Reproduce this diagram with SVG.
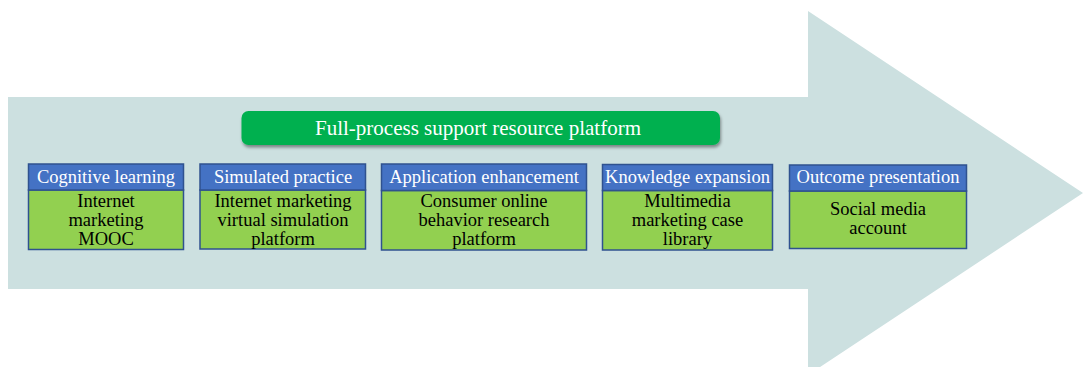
<svg xmlns="http://www.w3.org/2000/svg" width="1083" height="367" viewBox="0 0 1083 367">
  <defs>
    <filter id="shadow" x="-5%" y="-30%" width="110%" height="170%">
      <feDropShadow dx="1" dy="2.5" stdDeviation="1.5" flood-color="#000" flood-opacity="0.4"/>
    </filter>
    <style>
      .hdr { fill: #4472C4; stroke: #2F528F; stroke-width: 1.5; }
      .body { fill: #92D050; stroke: #2F528F; stroke-width: 1.5; }
      .hdr-text { font-family: "Liberation Serif", "Times New Roman", serif; font-size: 18.5px; fill: #FFFFFF; text-anchor: middle; }
      .body-text { font-family: "Liberation Serif", "Times New Roman", serif; font-size: 18.5px; fill: #000000; text-anchor: middle; }
      .banner-text { font-family: "Liberation Serif", "Times New Roman", serif; font-size: 21px; fill: #FFFFFF; text-anchor: middle; }
    </style>
  </defs>

  <rect width="1083" height="367" fill="#FFFFFF"/>

  <!-- background process arrow -->
  <polygon points="8,97 808,97 808,11 1083,193 808,375 808,289 8,289" fill="#CCE0E0"/>

  <!-- platform banner -->
  <g id="banner">
    <rect x="241.5" y="111" width="478.5" height="34" rx="7" ry="7" fill="#00B050" filter="url(#shadow)"/>
    <text class="banner-text" x="478" y="135">Full-process support resource platform</text>
  </g>

  <g id="connectors"/>

  <g id="cognitive-learning">
    <rect class="body" x="28.5" y="190" width="155" height="59.5"/>
    <rect class="hdr" x="28.5" y="164" width="155" height="26"/>
    <text class="hdr-text" x="106" y="183">Cognitive learning</text>
    <text class="body-text" x="106" y="207">Internet</text>
    <text class="body-text" x="106" y="226">marketing</text>
    <text class="body-text" x="106" y="245">MOOC</text>
  </g>

  <g id="simulated-practice">
    <rect class="body" x="200" y="190" width="165.5" height="59"/>
    <rect class="hdr" x="200" y="164" width="165.5" height="26"/>
    <text class="hdr-text" x="283" y="183">Simulated practice</text>
    <text class="body-text" x="283" y="207">Internet marketing</text>
    <text class="body-text" x="283" y="226">virtual simulation</text>
    <text class="body-text" x="283" y="245">platform</text>
  </g>

  <g id="application-enhancement">
    <rect class="body" x="381.5" y="190.5" width="205" height="59.5"/>
    <rect class="hdr" x="381.5" y="164" width="205" height="26.5"/>
    <text class="hdr-text" x="484" y="183">Application enhancement</text>
    <text class="body-text" x="484" y="207">Consumer online</text>
    <text class="body-text" x="484" y="226">behavior research</text>
    <text class="body-text" x="484" y="245">platform</text>
  </g>

  <g id="knowledge-expansion">
    <rect class="body" x="602.5" y="190.5" width="170" height="59.5"/>
    <rect class="hdr" x="602.5" y="164.5" width="170" height="26"/>
    <text class="hdr-text" x="687.5" y="183">Knowledge expansion</text>
    <text class="body-text" x="687.5" y="207">Multimedia</text>
    <text class="body-text" x="687.5" y="226">marketing case</text>
    <text class="body-text" x="687.5" y="245">library</text>
  </g>

  <g id="outcome-presentation">
    <rect class="body" x="789.5" y="191" width="177" height="57.5"/>
    <rect class="hdr" x="789.5" y="165" width="177" height="26"/>
    <text class="hdr-text" x="878" y="183">Outcome presentation</text>
    <text class="body-text" x="878" y="215">Social media</text>
    <text class="body-text" x="878" y="234">account</text>
  </g>
</svg>
